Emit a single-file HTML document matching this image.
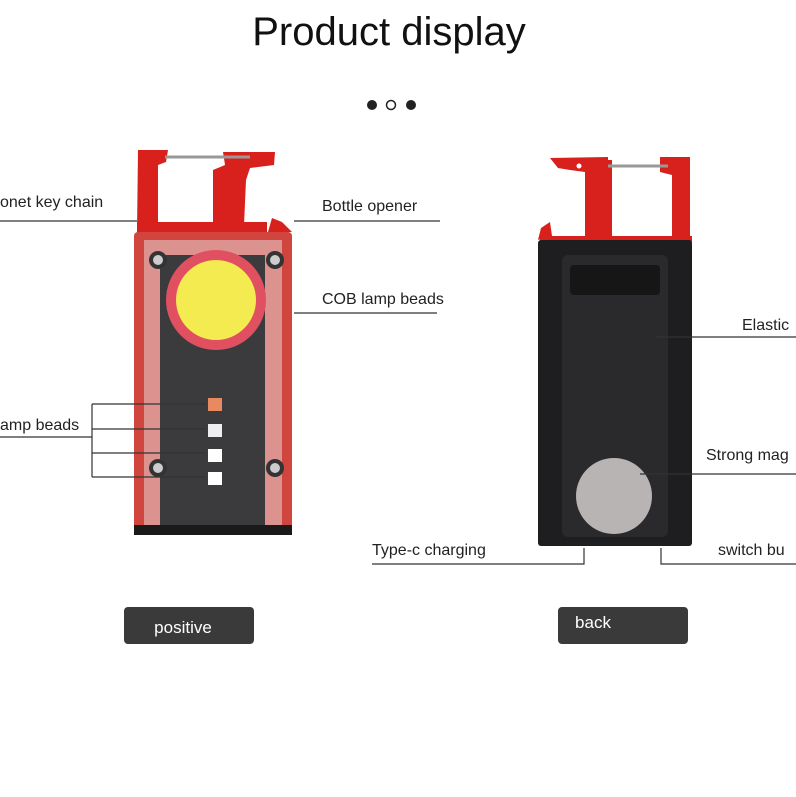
<!DOCTYPE html>
<html><head><style>
body{margin:0;background:#fff;}
svg{display:block;font-family:"Liberation Sans",sans-serif;}
</style></head><body>
<svg width="796" height="797" viewBox="0 0 796 797">
<text x="389" y="45" font-size="40" text-anchor="middle" fill="#111">Product display</text>
<circle cx="372" cy="105" r="5" fill="#222"/>
<circle cx="391" cy="105" r="4.5" fill="none" stroke="#222" stroke-width="1.5"/>
<circle cx="411" cy="105" r="5" fill="#222"/>

<!-- left device hook -->
<g fill="#d8211c">
<path d="M138 150 H168 L166 162 L158 165 V232 H137 Z"/>
<path d="M223 152 H275 L274 165 L250 168 L246 180 L244 225 H213 V170 L225 165 Z"/>
<rect x="137" y="222" width="130" height="11"/>
<path d="M268 232 L272 218 L282 222 L292 232 Z"/>
</g>
<path d="M165 157 H250" stroke="#999" stroke-width="3"/>
<rect x="134" y="232" width="158" height="300" rx="4" fill="#d0463e"/>
<rect x="144" y="240" width="138" height="285" fill="#e8e0e0" opacity="0.5"/>
<rect x="160" y="255" width="105" height="270" fill="#3b3b3e"/>
<rect x="134" y="525" width="158" height="10" fill="#1a1a1a"/>
<circle cx="216" cy="300" r="50" fill="#e05060"/>
<circle cx="216" cy="300" r="40" fill="#f4eb50"/>
<circle cx="158" cy="260" r="9" fill="#333"/><circle cx="158" cy="260" r="5" fill="#ccc"/>
<circle cx="275" cy="260" r="9" fill="#333"/><circle cx="275" cy="260" r="5" fill="#ccc"/>
<circle cx="158" cy="468" r="9" fill="#333"/><circle cx="158" cy="468" r="5" fill="#ccc"/>
<circle cx="275" cy="468" r="9" fill="#333"/><circle cx="275" cy="468" r="5" fill="#ccc"/>
<rect x="208" y="398" width="14" height="13" fill="#e88a60"/>
<rect x="208" y="424" width="14" height="13" fill="#eee"/>
<rect x="208" y="449" width="14" height="13" fill="#fff"/>
<rect x="208" y="472" width="14" height="13" fill="#fff"/>

<!-- left labels -->
<text x="0" y="207" font-size="16" fill="#222">onet key chain</text>
<path d="M0 221 H137" stroke="#333" stroke-width="1.2"/>
<text x="322" y="211" font-size="16" fill="#222">Bottle opener</text>
<path d="M294 221 H440" stroke="#333" stroke-width="1.2"/>
<text x="322" y="304" font-size="16" fill="#222">COB lamp beads</text>
<path d="M294 313 H437" stroke="#333" stroke-width="1.2"/>
<text x="0" y="430" font-size="16" fill="#222">amp beads</text>
<path d="M0 437 H92 M92 404 V477 M92 404 H206 M92 429 H206 M92 453 H206 M92 477 H206" stroke="#333" stroke-width="1.2" fill="none"/>

<!-- right device hook -->
<g fill="#d8211c">
<path d="M550 158 L608 157 V170 L585 172 L570 170 L558 168 Z"/>
<rect x="585" y="160" width="27" height="82"/>
<path d="M660 157 H690 V242 H672 V175 L660 172 Z"/>
<rect x="540" y="236" width="152" height="6"/>
<path d="M538 240 L541 228 L550 222 L552 236 Z"/>
</g>
<circle cx="579" cy="166" r="2.5" fill="#fff"/>
<path d="M608 166 H668" stroke="#999" stroke-width="3"/>
<rect x="538" y="240" width="154" height="306" rx="3" fill="#1e1e20"/>
<rect x="562" y="255" width="106" height="282" rx="6" fill="#2a2a2c"/>
<rect x="570" y="265" width="90" height="30" rx="4" fill="#161617"/>
<circle cx="614" cy="496" r="38" fill="#b8b4b4"/>
<text x="742" y="330" font-size="16" fill="#222">Elastic</text>
<path d="M655 337 H796" stroke="#333" stroke-width="1.2"/>
<text x="706" y="460" font-size="16" fill="#222">Strong mag</text>
<path d="M640 474 H796" stroke="#333" stroke-width="1.2"/>
<text x="372" y="555" font-size="16" fill="#222">Type-c charging</text>
<path d="M372 564 H584 V548" stroke="#333" stroke-width="1.2" fill="none"/>
<text x="718" y="555" font-size="16" fill="#222">switch bu</text>
<path d="M661 548 V564 H796" stroke="#333" stroke-width="1.2" fill="none"/>

<rect x="124" y="607" width="130" height="37" rx="4" fill="#3a3a3a"/>
<text x="183" y="633" font-size="17" fill="#fff" text-anchor="middle">positive</text>
<rect x="558" y="607" width="130" height="37" rx="4" fill="#3a3a3a"/>
<text x="593" y="628" font-size="17" fill="#fff" text-anchor="middle">back</text>
</svg>
</body></html>
